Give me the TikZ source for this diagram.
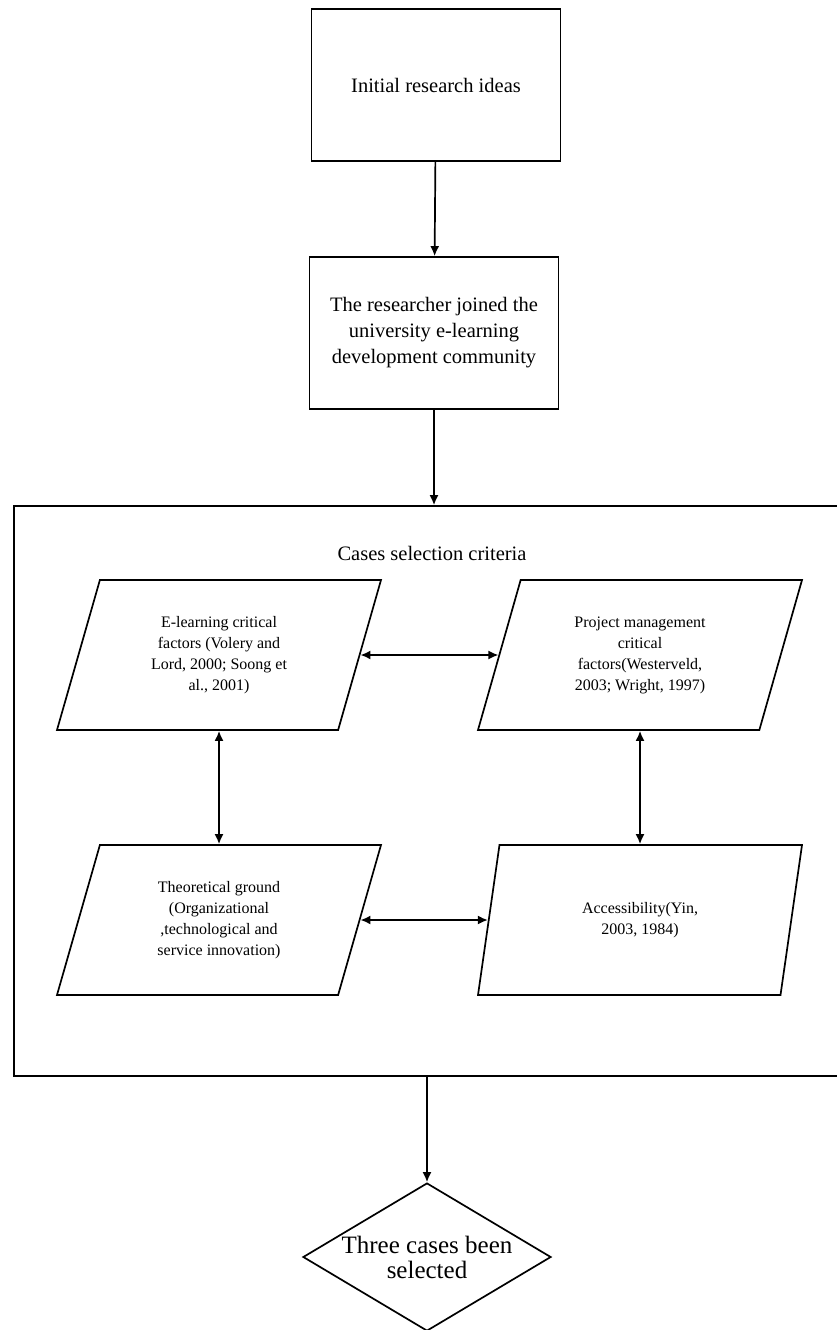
\documentclass[tikz,border=0pt]{standalone}
\usepackage{fontspec}
\setmainfont{Liberation Serif}
\usetikzlibrary{arrows.meta,positioning,calc,shapes.geometric}

\begin{document}
\begin{tikzpicture}[x=1pt,y=-1pt, line width=1.7pt, >={Latex[length=10pt,width=9pt]},
  stage/.style={draw,rectangle,minimum width=249pt,minimum height=152pt,align=center,font=\fontsize{20.5}{26}\selectfont},
  crit/.style={draw,trapezium,trapezium left angle=63,trapezium right angle=117,trapezium stretches body,
    minimum width=324pt,minimum height=150pt,align=center,font=\fontsize{16}{21}\selectfont},
  outcome/.style={draw,diamond,aspect=1.68,inner sep=0pt,minimum width=248pt,minimum height=148pt,
    align=center,font=\fontsize{25}{25}\selectfont}]
\useasboundingbox (0,0) rectangle (836,1330);

\node[stage] (ideas) at (436,85) {Initial research ideas};
\node[stage] (joined) at (434,333) {The researcher joined the\\university e-learning\\development community};
\draw[->] (ideas) -- (joined);

% selection criteria frame
\node[draw,minimum width=830pt,minimum height=570pt] (frame) at (429,791) {};
\node[font=\fontsize{20.5}{24}\selectfont] (title) at (432,553) {Cases selection criteria};
\draw[->] (joined) -- (joined |- frame.north);

\foreach \name/\x/\y/\txt in {
  elearn/219/655/{E-learning critical\\factors (Volery and\\Lord, 2000; Soong et\\al., 2001)},
  pm/640/655/{Project management\\critical\\factors(Westerveld,\\2003; Wright, 1997)},
  theory/219/920/{Theoretical ground\\(Organizational\\,technological and\\service innovation)},
  access/640/920/{Accessibility(Yin,\\2003, 1984)}} {
  \node[crit] (\name) at (\x,\y) {\txt};
}
\draw[<->] (elearn.east) -- (pm.west);
\draw[<->] (theory.east) -- (access.west);
\draw[<->] (elearn) -- (theory);
\draw[<->] (pm) -- (access);

\node[outcome] (result) at (427,1257) {Three cases been\\selected};
\draw[->] (result |- frame.south) -- (result);
\end{tikzpicture}
\end{document}
